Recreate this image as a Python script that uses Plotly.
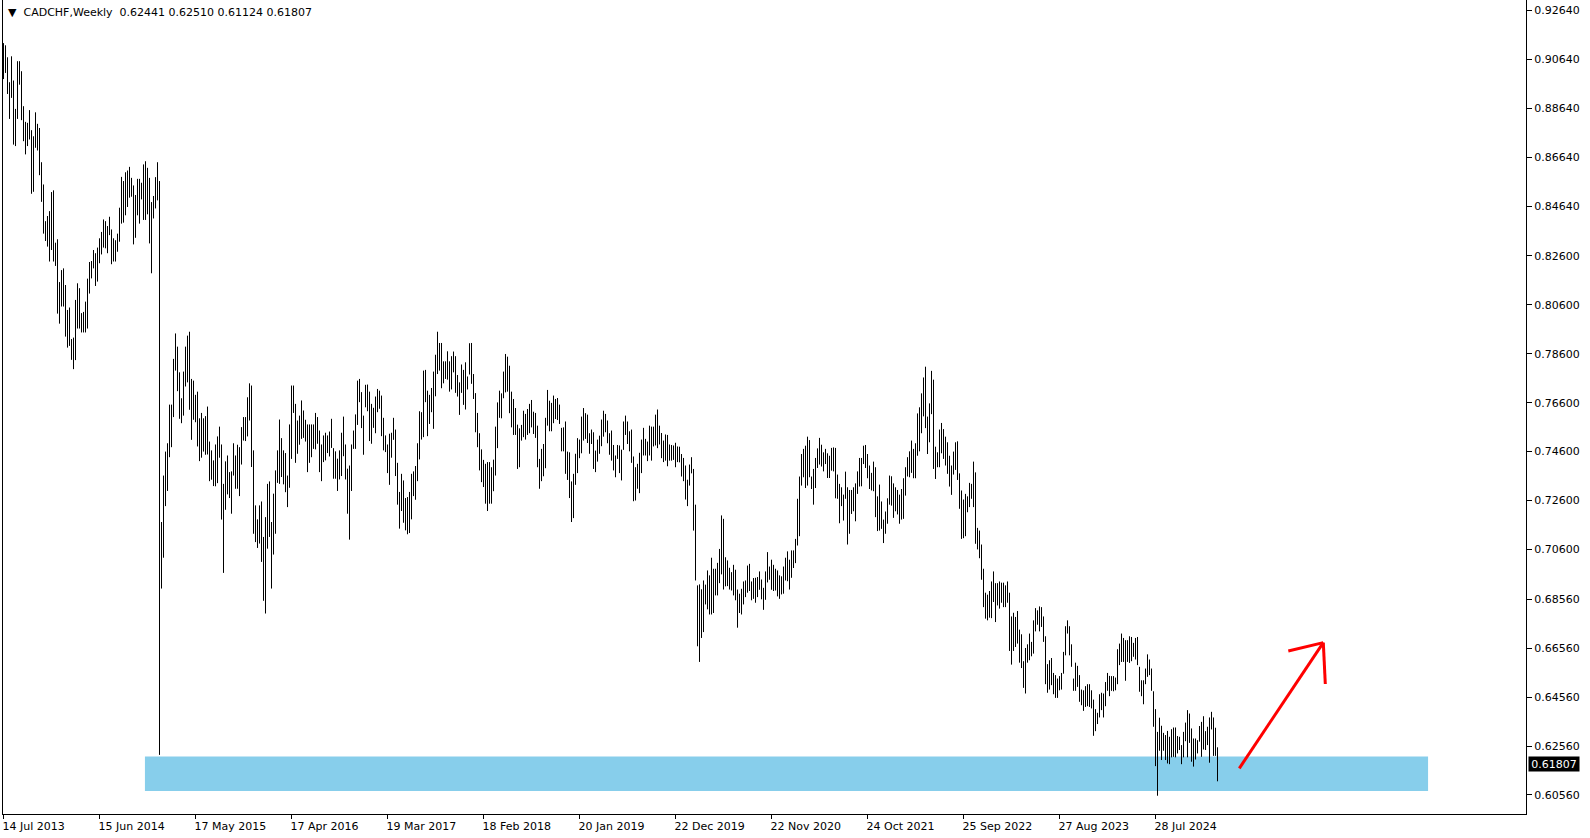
import pandas as pd
import plotly.graph_objects as go

# ---------------- data ----------------
symbol_title = "CADCHF,Weekly"
last_bar_ohlc = ["0.62441", "0.62510", "0.61124", "0.61807"]
last_price = 0.61807
first_week = "2013-07-14"

week_high = [
    0.9130, 0.9121, 0.9072, 0.8970, 0.9076, 0.8977, 0.8861, 0.9056, 0.9056, 0.9015,
    0.8872, 0.8808, 0.8804, 0.8856, 0.8774, 0.8749, 0.8847, 0.8800, 0.8783, 0.8643,
    0.8552, 0.8402, 0.8423, 0.8443, 0.8521, 0.8528, 0.8314, 0.8328, 0.8153, 0.8202,
    0.8209, 0.8141, 0.8039, 0.8049, 0.7920, 0.7926, 0.8080, 0.8148, 0.8128, 0.8026,
    0.8031, 0.8073, 0.8167, 0.8235, 0.8239, 0.8284, 0.8271, 0.8294, 0.8332, 0.8358,
    0.8409, 0.8402, 0.8382, 0.8420, 0.8368, 0.8332, 0.8324, 0.8351, 0.8457, 0.8583,
    0.8566, 0.8602, 0.8609, 0.8624, 0.8579, 0.8548, 0.8509, 0.8575, 0.8575, 0.8559,
    0.8634, 0.8647, 0.8620, 0.8579, 0.8480, 0.8505, 0.8582, 0.8643, 0.8566, 0.7172,
    0.7362, 0.7460, 0.7494, 0.7652, 0.7652, 0.7839, 0.7943, 0.7889, 0.7784, 0.7678,
    0.7787, 0.7889, 0.7934, 0.7950, 0.7757, 0.7750, 0.7692, 0.7705, 0.7596, 0.7618,
    0.7596, 0.7605, 0.7644, 0.7501, 0.7465, 0.7424, 0.7489, 0.7522, 0.7562, 0.7489,
    0.7328, 0.7420, 0.7444, 0.7376, 0.7379, 0.7494, 0.7444, 0.7488, 0.7478, 0.7560,
    0.7601, 0.7601, 0.7682, 0.7739, 0.7730, 0.7465, 0.7240, 0.7183, 0.7240, 0.7256,
    0.7111, 0.7192, 0.7328, 0.7338, 0.7172, 0.7288, 0.7383, 0.7465, 0.7591, 0.7515,
    0.7465, 0.7454, 0.7362, 0.7571, 0.7730, 0.7730, 0.7655, 0.7587, 0.7607, 0.7669,
    0.7628, 0.7590, 0.7571, 0.7571, 0.7571, 0.7571, 0.7618, 0.7601, 0.7546, 0.7489,
    0.7526, 0.7537, 0.7526, 0.7542, 0.7594, 0.7474, 0.7461, 0.7431, 0.7465, 0.7537,
    0.7603, 0.7489, 0.7390, 0.7403, 0.7489, 0.7546, 0.7612, 0.7750, 0.7757, 0.7703,
    0.7607, 0.7733, 0.7734, 0.7705, 0.7655, 0.7639, 0.7685, 0.7716, 0.7709, 0.7689,
    0.7598, 0.7526, 0.7489, 0.7533, 0.7537, 0.7598, 0.7550, 0.7414, 0.7295, 0.7369,
    0.7342, 0.7270, 0.7274, 0.7295, 0.7369, 0.7379, 0.7401, 0.7494, 0.7625, 0.7621,
    0.7791, 0.7794, 0.7709, 0.7692, 0.7720, 0.7787, 0.7856, 0.7950, 0.7904, 0.7904,
    0.7829, 0.7829, 0.7870, 0.7829, 0.7850, 0.7869, 0.7850, 0.7773, 0.7743, 0.7816,
    0.7794, 0.7825, 0.7767, 0.7903, 0.7904, 0.7777, 0.7699, 0.7618, 0.7535, 0.7469,
    0.7426, 0.7410, 0.7417, 0.7417, 0.7396, 0.7427, 0.7562, 0.7661, 0.7709, 0.7698,
    0.7787, 0.7859, 0.7848, 0.7811, 0.7705, 0.7675, 0.7638, 0.7570, 0.7555, 0.7569,
    0.7627, 0.7614, 0.7634, 0.7655, 0.7671, 0.7623, 0.7618, 0.7566, 0.7430, 0.7471,
    0.7491, 0.7598, 0.7712, 0.7668, 0.7659, 0.7689, 0.7675, 0.7679, 0.7652, 0.7557,
    0.7559, 0.7583, 0.7460, 0.7457, 0.7338, 0.7369, 0.7451, 0.7515, 0.7509, 0.7603,
    0.7638, 0.7617, 0.7611, 0.7535, 0.7550, 0.7539, 0.7464, 0.7509, 0.7525, 0.7591,
    0.7627, 0.7614, 0.7587, 0.7535, 0.7546, 0.7487, 0.7444, 0.7487, 0.7485, 0.7468,
    0.7583, 0.7607, 0.7583, 0.7543, 0.7550, 0.7440, 0.7396, 0.7410, 0.7455, 0.7509,
    0.7557, 0.7512, 0.7501, 0.7566, 0.7562, 0.7562, 0.7611, 0.7632, 0.7566, 0.7536,
    0.7505, 0.7530, 0.7528, 0.7489, 0.7487, 0.7485, 0.7496, 0.7481, 0.7480, 0.7450,
    0.7434, 0.7403, 0.7345, 0.7407, 0.7437, 0.7389, 0.7243, 0.6913, 0.6917, 0.6897,
    0.6933, 0.6916, 0.6974, 0.6954, 0.7026, 0.6981, 0.6981, 0.7005, 0.7062, 0.7199,
    0.7185, 0.7028, 0.7015, 0.6985, 0.6967, 0.6997, 0.6977, 0.6896, 0.6879, 0.6899,
    0.6929, 0.6933, 0.6994, 0.7001, 0.6929, 0.6943, 0.6944, 0.6947, 0.6970, 0.6937,
    0.6903, 0.6970, 0.7049, 0.6990, 0.7018, 0.6997, 0.6981, 0.6974, 0.6954, 0.6950,
    0.6990, 0.7026, 0.7052, 0.7018, 0.7056, 0.7056, 0.7103, 0.7267, 0.7358, 0.7450,
    0.7471, 0.7484, 0.7521, 0.7507, 0.7358, 0.7389, 0.7434, 0.7473, 0.7516, 0.7488,
    0.7457, 0.7471, 0.7453, 0.7443, 0.7475, 0.7477, 0.7475, 0.7366, 0.7328, 0.7314,
    0.7284, 0.7378, 0.7314, 0.7303, 0.7303, 0.7314, 0.7330, 0.7379, 0.7434, 0.7434,
    0.7484, 0.7487, 0.7450, 0.7403, 0.7373, 0.7419, 0.7396, 0.7277, 0.7325, 0.7256,
    0.7182, 0.7215, 0.7269, 0.7362, 0.7359, 0.7330, 0.7314, 0.7303, 0.7284, 0.7307,
    0.7351, 0.7396, 0.7437, 0.7461, 0.7505, 0.7471, 0.7494, 0.7616, 0.7641, 0.7698,
    0.7763, 0.7807, 0.7603, 0.7657, 0.7790, 0.7754, 0.7480, 0.7457, 0.7550, 0.7577,
    0.7552, 0.7521, 0.7498, 0.7443, 0.7403, 0.7460, 0.7498, 0.7502, 0.7371, 0.7301,
    0.7264, 0.7287, 0.7277, 0.7332, 0.7328, 0.7419, 0.7375, 0.7148, 0.7137, 0.7080,
    0.6981, 0.6883, 0.6875, 0.6890, 0.6929, 0.6970, 0.6922, 0.6922, 0.6929, 0.6924,
    0.6924, 0.6913, 0.6929, 0.6883, 0.6786, 0.6801, 0.6784, 0.6808, 0.6732, 0.6713,
    0.6603, 0.6657, 0.6672, 0.6716, 0.6682, 0.6770, 0.6820, 0.6811, 0.6827, 0.6824,
    0.6786, 0.6705, 0.6591, 0.6607, 0.6616, 0.6555, 0.6546, 0.6532, 0.6542, 0.6555,
    0.6641, 0.6746, 0.6770, 0.6746, 0.6672, 0.6532, 0.6597, 0.6584, 0.6546, 0.6487,
    0.6484, 0.6501, 0.6509, 0.6509, 0.6484, 0.6446, 0.6407, 0.6392, 0.6468, 0.6474,
    0.6471, 0.6518, 0.6555, 0.6543, 0.6542, 0.6542, 0.6536, 0.6652, 0.6675, 0.6716,
    0.6698, 0.6689, 0.6689, 0.6705, 0.6702, 0.6678, 0.6698, 0.6702, 0.6580, 0.6525,
    0.6525, 0.6573, 0.6631, 0.6610, 0.6573, 0.6480, 0.6407, 0.6314, 0.6372, 0.6339,
    0.6310, 0.6301, 0.6318, 0.6294, 0.6325, 0.6332, 0.6332, 0.6297, 0.6294, 0.6260,
    0.6314, 0.6352, 0.6403, 0.6389, 0.6328, 0.6287, 0.6287, 0.6280, 0.6338, 0.6355,
    0.6378, 0.6317, 0.6335, 0.6373, 0.6396, 0.6373, 0.6331, 0.6251,
]

week_low = [
    0.8983, 0.9008, 0.8922, 0.8820, 0.8906, 0.8715, 0.8709, 0.8820, 0.8960, 0.8815,
    0.8729, 0.8675, 0.8709, 0.8736, 0.8514, 0.8522, 0.8702, 0.8691, 0.8590, 0.8481,
    0.8351, 0.8321, 0.8298, 0.8237, 0.8284, 0.8237, 0.8219, 0.8024, 0.7983, 0.8053,
    0.8053, 0.7930, 0.7885, 0.7892, 0.7835, 0.7797, 0.7834, 0.7963, 0.7963, 0.7947,
    0.7947, 0.7947, 0.7963, 0.8106, 0.8168, 0.8209, 0.8137, 0.8155, 0.8230, 0.8266,
    0.8294, 0.8291, 0.8271, 0.8345, 0.8226, 0.8237, 0.8237, 0.8277, 0.8318, 0.8392,
    0.8396, 0.8426, 0.8460, 0.8498, 0.8502, 0.8307, 0.8334, 0.8426, 0.8392, 0.8491,
    0.8407, 0.8407, 0.8430, 0.8311, 0.8189, 0.8413, 0.8454, 0.8487, 0.6220, 0.6900,
    0.7026, 0.7237, 0.7299, 0.7437, 0.7478, 0.7601, 0.7791, 0.7707, 0.7594, 0.7576,
    0.7607, 0.7726, 0.7743, 0.7631, 0.7508, 0.7590, 0.7580, 0.7481, 0.7421, 0.7435,
    0.7460, 0.7447, 0.7448, 0.7339, 0.7345, 0.7319, 0.7318, 0.7331, 0.7435, 0.7182,
    0.6964, 0.7222, 0.7285, 0.7270, 0.7206, 0.7362, 0.7308, 0.7308, 0.7278, 0.7407,
    0.7505, 0.7503, 0.7522, 0.7587, 0.7397, 0.7124, 0.7090, 0.7066, 0.7084, 0.7009,
    0.6850, 0.6798, 0.7063, 0.7111, 0.6900, 0.7039, 0.7124, 0.7332, 0.7328, 0.7356,
    0.7326, 0.7294, 0.7233, 0.7312, 0.7430, 0.7618, 0.7414, 0.7451, 0.7488, 0.7512,
    0.7516, 0.7501, 0.7376, 0.7414, 0.7437, 0.7471, 0.7469, 0.7492, 0.7376, 0.7339,
    0.7417, 0.7424, 0.7454, 0.7440, 0.7475, 0.7349, 0.7349, 0.7299, 0.7346, 0.7360,
    0.7441, 0.7346, 0.7206, 0.7100, 0.7299, 0.7471, 0.7471, 0.7569, 0.7662, 0.7556,
    0.7447, 0.7641, 0.7625, 0.7503, 0.7492, 0.7557, 0.7535, 0.7621, 0.7635, 0.7523,
    0.7465, 0.7458, 0.7372, 0.7324, 0.7435, 0.7508, 0.7360, 0.7243, 0.7145, 0.7217,
    0.7169, 0.7138, 0.7122, 0.7127, 0.7183, 0.7278, 0.7263, 0.7339, 0.7428, 0.7509,
    0.7519, 0.7662, 0.7523, 0.7573, 0.7621, 0.7553, 0.7686, 0.7777, 0.7791, 0.7719,
    0.7739, 0.7757, 0.7754, 0.7705, 0.7714, 0.7784, 0.7700, 0.7685, 0.7610, 0.7700,
    0.7651, 0.7632, 0.7714, 0.7775, 0.7737, 0.7675, 0.7539, 0.7478, 0.7383, 0.7335,
    0.7315, 0.7247, 0.7217, 0.7247, 0.7247, 0.7298, 0.7362, 0.7474, 0.7598, 0.7596,
    0.7678, 0.7702, 0.7705, 0.7617, 0.7559, 0.7528, 0.7528, 0.7389, 0.7396, 0.7505,
    0.7519, 0.7509, 0.7528, 0.7535, 0.7559, 0.7532, 0.7516, 0.7396, 0.7308, 0.7339,
    0.7359, 0.7392, 0.7566, 0.7543, 0.7543, 0.7576, 0.7593, 0.7589, 0.7573, 0.7461,
    0.7461, 0.7369, 0.7344, 0.7270, 0.7172, 0.7188, 0.7324, 0.7372, 0.7433, 0.7453,
    0.7505, 0.7512, 0.7495, 0.7451, 0.7491, 0.7389, 0.7376, 0.7419, 0.7451, 0.7482,
    0.7521, 0.7539, 0.7494, 0.7447, 0.7423, 0.7383, 0.7355, 0.7430, 0.7372, 0.7342,
    0.7467, 0.7528, 0.7491, 0.7461, 0.7414, 0.7257, 0.7260, 0.7308, 0.7290, 0.7372,
    0.7444, 0.7444, 0.7421, 0.7444, 0.7423, 0.7481, 0.7485, 0.7474, 0.7489, 0.7433,
    0.7417, 0.7423, 0.7400, 0.7423, 0.7423, 0.7426, 0.7396, 0.7417, 0.7416, 0.7358,
    0.7339, 0.7264, 0.7237, 0.7321, 0.7371, 0.7137, 0.6933, 0.6664, 0.6600, 0.6698,
    0.6722, 0.6835, 0.6815, 0.6794, 0.6794, 0.6800, 0.6872, 0.6872, 0.6922, 0.6958,
    0.6896, 0.6909, 0.6910, 0.6896, 0.6892, 0.6872, 0.6852, 0.6740, 0.6800, 0.6794,
    0.6835, 0.6865, 0.6883, 0.6890, 0.6852, 0.6858, 0.6842, 0.6865, 0.6895, 0.6856,
    0.6813, 0.6854, 0.6925, 0.6936, 0.6895, 0.6890, 0.6892, 0.6868, 0.6858, 0.6876,
    0.6879, 0.6933, 0.6930, 0.6896, 0.6944, 0.6984, 0.7004, 0.7076, 0.7114, 0.7321,
    0.7355, 0.7311, 0.7321, 0.7355, 0.7307, 0.7243, 0.7311, 0.7393, 0.7407, 0.7399,
    0.7379, 0.7409, 0.7352, 0.7352, 0.7382, 0.7379, 0.7269, 0.7267, 0.7167, 0.7237,
    0.7178, 0.7267, 0.7080, 0.7124, 0.7205, 0.7216, 0.7175, 0.7287, 0.7317, 0.7318,
    0.7409, 0.7393, 0.7351, 0.7307, 0.7301, 0.7298, 0.7192, 0.7135, 0.7137, 0.7144,
    0.7086, 0.7124, 0.7165, 0.7243, 0.7239, 0.7189, 0.7216, 0.7203, 0.7165, 0.7182,
    0.7185, 0.7280, 0.7358, 0.7355, 0.7373, 0.7351, 0.7351, 0.7443, 0.7461, 0.7535,
    0.7604, 0.7556, 0.7450, 0.7498, 0.7613, 0.7389, 0.7348, 0.7396, 0.7396, 0.7453,
    0.7430, 0.7403, 0.7369, 0.7317, 0.7283, 0.7366, 0.7385, 0.7344, 0.7226, 0.7103,
    0.7106, 0.7114, 0.7212, 0.7233, 0.7267, 0.7233, 0.7083, 0.7060, 0.7024, 0.6936,
    0.6824, 0.6777, 0.6770, 0.6781, 0.6779, 0.6845, 0.6763, 0.6831, 0.6818, 0.6842,
    0.6824, 0.6824, 0.6842, 0.6645, 0.6589, 0.6645, 0.6661, 0.6675, 0.6597, 0.6575,
    0.6494, 0.6471, 0.6597, 0.6607, 0.6623, 0.6634, 0.6725, 0.6752, 0.6725, 0.6743,
    0.6682, 0.6509, 0.6474, 0.6487, 0.6505, 0.6468, 0.6453, 0.6453, 0.6484, 0.6487,
    0.6552, 0.6627, 0.6716, 0.6627, 0.6580, 0.6482, 0.6482, 0.6498, 0.6437, 0.6423,
    0.6400, 0.6416, 0.6419, 0.6416, 0.6410, 0.6298, 0.6317, 0.6346, 0.6373, 0.6403,
    0.6373, 0.6419, 0.6482, 0.6460, 0.6482, 0.6480, 0.6484, 0.6509, 0.6587, 0.6600,
    0.6600, 0.6523, 0.6600, 0.6596, 0.6603, 0.6621, 0.6610, 0.6587, 0.6478, 0.6460,
    0.6427, 0.6509, 0.6539, 0.6546, 0.6482, 0.6335, 0.6174, 0.6053, 0.6237, 0.6199,
    0.6237, 0.6199, 0.6185, 0.6182, 0.6210, 0.6212, 0.6210, 0.6226, 0.6240, 0.6182,
    0.6210, 0.6276, 0.6210, 0.6269, 0.6192, 0.6172, 0.6201, 0.6226, 0.6274, 0.6212,
    0.6242, 0.6240, 0.6260, 0.6188, 0.6324, 0.6216, 0.6216, 0.6112,
]

price_tick_labels = ["0.60560", "0.62560", "0.64560", "0.66560", "0.68560", "0.70600",
                     "0.72600", "0.74600", "0.76600", "0.78600", "0.80600", "0.82600",
                     "0.84640", "0.86640", "0.88640", "0.90640", "0.92640"]
date_tick_labels = ["14 Jul 2013", "15 Jun 2014", "17 May 2015", "17 Apr 2016",
                    "19 Mar 2017", "18 Feb 2018", "20 Jan 2019", "22 Dec 2019",
                    "22 Nov 2020", "24 Oct 2021", "25 Sep 2022", "27 Aug 2023",
                    "28 Jul 2024"]

# drawn objects (support zone and red arrow), in chart coordinates
zone_dates = ["2014-11-21", "2027-03-09"]
zone_prices = [0.6072, 0.6213]
arrow_dates = ["2025-05-17 07:00", "2026-03-07 07:00"]
arrow_prices = [0.6165, 0.6679]
arrowhead_left = ("2025-11-04 19:00", 0.6645)
arrowhead_right = ("2026-03-14 07:00", 0.6510)

# ---------------- figure ----------------
n = min(len(week_high), len(week_low))
dates = pd.date_range(first_week, periods=n, freq="7D")

xs, ys = [], []
for d, h, l in zip(dates, week_high[:n], week_low[:n]):
    xs += [d, d, None]
    ys += [l, h, None]

fig = go.Figure()
fig.add_trace(go.Scatter(x=xs, y=ys, mode="lines",
                         line=dict(color="#000000", width=1),
                         hoverinfo="skip", showlegend=False))

W, H = 1590, 838
ML, MR, MT, MB = 3, 64, 0, 24
plot_w = W - ML - MR
start = pd.Timestamp(first_week) - pd.Timedelta(days=0.25 * 7)
end = start + pd.Timedelta(days=plot_w / 2 * 7)

font = dict(family="DejaVu Sans", size=11, color="#000000")

shapes = [
    dict(type="rect", xref="x", yref="y", x0=zone_dates[0], x1=zone_dates[1],
         y0=zone_prices[0], y1=zone_prices[1], fillcolor="#87CEEB",
         line=dict(width=0), layer="below"),
    dict(type="line", xref="x", yref="y", x0=arrow_dates[0], y0=arrow_prices[0],
         x1=arrow_dates[1], y1=arrow_prices[1], line=dict(color="#FF0000", width=3)),
    dict(type="line", xref="x", yref="y", x0=arrowhead_left[0], y0=arrowhead_left[1],
         x1=arrow_dates[1], y1=arrow_prices[1], line=dict(color="#FF0000", width=3)),
    dict(type="line", xref="x", yref="y", x0=arrow_dates[1], y0=arrow_prices[1],
         x1=arrowhead_right[0], y1=arrowhead_right[1], line=dict(color="#FF0000", width=3)),
]

title_text = "\u25BC\u00a0\u00a0" + symbol_title + "\u00a0\u00a0" + " ".join(last_bar_ohlc)

annotations = [
    dict(xref="paper", yref="paper", x=0, y=1 - 12 / (H - MT - MB),
         xanchor="left", yanchor="middle", xshift=3, showarrow=False,
         text=title_text, font=font),
    dict(xref="paper", yref="y", x=1, y=last_price, xanchor="left", yanchor="middle",
         xshift=2, showarrow=False, text=f"{last_price:.5f}",
         font=dict(family="DejaVu Sans", size=11, color="#FFFFFF"),
         bgcolor="#000000", borderpad=0, width=50, height=14),
]

fig.update_layout(
    width=W, height=H, autosize=False,
    margin=dict(l=ML, r=MR, t=MT, b=MB, pad=0),
    paper_bgcolor="#FFFFFF", plot_bgcolor="#FFFFFF",
    showlegend=False, hovermode=False,
    shapes=shapes, annotations=annotations,
    xaxis=dict(type="date", range=[start, end], showgrid=False, zeroline=False,
               showline=True, linecolor="#000000", linewidth=1,
               ticks="outside", ticklen=4, tickcolor="#000000", tickwidth=1,
               tickvals=list(pd.to_datetime(date_tick_labels, format="%d %b %Y")),
               ticktext=date_tick_labels, ticklabelposition="outside right",
               ticklabelshift=-2, ticklabelstandoff=2,
               tickfont=font, fixedrange=True),
    yaxis=dict(side="right", range=[0.59783, 0.93062], showgrid=False, zeroline=False,
               showline=True, mirror=True, linecolor="#000000", linewidth=1,
               ticks="outside", ticklen=5, tickcolor="#000000", tickwidth=1,
               tickvals=[float(t) for t in price_tick_labels],
               ticktext=price_tick_labels, tickfont=font, fixedrange=True),
)

fig.write_html("out.html", config={"displayModeBar": False, "staticPlot": True},
               post_script="document.body.style.margin='0';document.body.style.overflow='hidden';")
